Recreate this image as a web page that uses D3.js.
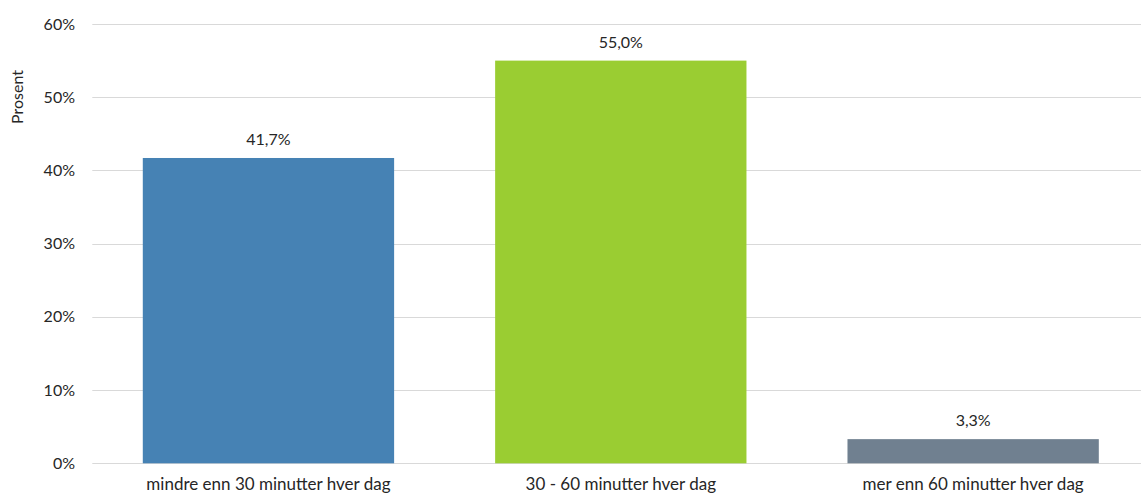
<!DOCTYPE html>
<html>
<head>
<meta charset="utf-8">
<script src="https://cdn.jsdelivr.net/npm/d3@7"></script>
<style>
  html, body { margin: 0; padding: 0; background: #fff; overflow: hidden; }
  svg { display: block; }
  text { font-family: Lato, "Open Sans", sans-serif; fill: #262626; }
</style>
</head>
<body>
<svg id="chart" width="1141" height="495"></svg>
<script>
// Daily time spent, share of respondents
const categories = ["mindre enn 30 minutter hver dag", "30 - 60 minutter hver dag", "mer enn 60 minutter hver dag"];
const values = [41.7, 55.0, 3.3];
const colors = ["#4682B4", "#9ACD32", "#708090"];
const yTicks = [0, 10, 20, 30, 40, 50, 60];
const yAxisTitle = "Prosent";

const svg = d3.select("#chart");
const plot = { left: 92.3, right: 1149.3, top: 24, bottom: 463.3 };

const x = d3.scaleBand()
  .domain(categories)
  .range([plot.left, plot.right])
  .paddingInner(0.2867)
  .paddingOuter(0.1433);

const y = d3.scaleLinear()
  .domain([0, 60])
  .range([plot.bottom, plot.top]);

const fmt = v => v.toFixed(1).replace(".", ",") + "%";

// Gridlines
svg.append("g")
  .selectAll("line")
  .data(yTicks)
  .join("line")
  .attr("x1", plot.left)
  .attr("x2", plot.right)
  .attr("y1", d => Math.round(y(d)) + 0.5)
  .attr("y2", d => Math.round(y(d)) + 0.5)
  .attr("stroke", "#d9d9d9")
  .attr("stroke-width", 1);

// Y tick labels
svg.append("g")
  .selectAll("text")
  .data(yTicks)
  .join("text")
  .attr("x", 75)
  .attr("y", d => y(d))
  .attr("dy", "0.35em")
  .attr("text-anchor", "end")
  .style("font-size", "16px")
  .text(d => d + "%");

// Y axis title
svg.append("text")
  .attr("transform", "translate(23,97) rotate(-90)")
  .attr("text-anchor", "middle")
  .style("font-size", "16px")
  .text(yAxisTitle);

const data = categories.map((c, i) => ({ cat: c, value: values[i], color: colors[i] }));

// Bars
svg.append("g")
  .selectAll("rect")
  .data(data)
  .join("rect")
  .attr("x", d => x(d.cat))
  .attr("width", x.bandwidth())
  .attr("y", d => y(d.value))
  .attr("height", d => y(0) - y(d.value))
  .attr("fill", d => d.color);

// Value labels
svg.append("g")
  .selectAll("text")
  .data(data)
  .join("text")
  .attr("x", d => x(d.cat) + x.bandwidth() / 2)
  .attr("y", d => y(d.value) - 13)
  .attr("text-anchor", "middle")
  .style("font-size", "16px")
  .text(d => fmt(d.value));

// Category labels
svg.append("g")
  .selectAll("text")
  .data(data)
  .join("text")
  .attr("x", d => x(d.cat) + x.bandwidth() / 2)
  .attr("y", 490)
  .attr("text-anchor", "middle")
  .style("font-size", "17px")
  .text(d => d.cat);
</script>
</body>
</html>
